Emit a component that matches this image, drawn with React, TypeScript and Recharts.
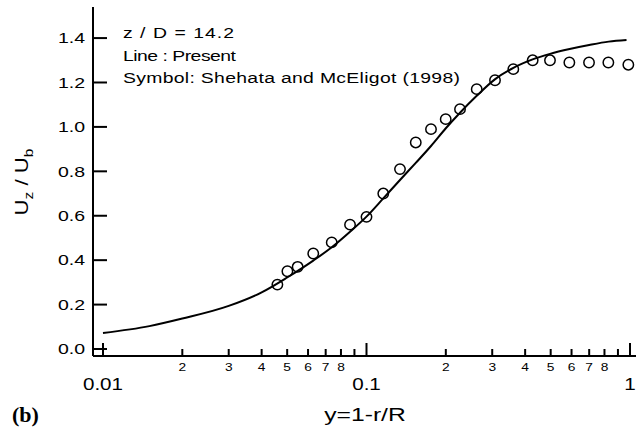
import React from 'react';
import { ComposedChart, Line, Scatter, XAxis, YAxis, Customized } from 'recharts';

// Present computation (line)
const lineX = [0.01, 0.015, 0.02, 0.03, 0.04, 0.05, 0.0628, 0.0738, 0.0866, 0.1, 0.1158, 0.134, 0.1538, 0.1757, 0.2, 0.2264, 0.262, 0.307, 0.361, 0.427, 0.497, 0.59, 0.7, 0.83, 0.97];
const lineY = [0.072, 0.103, 0.137, 0.194, 0.255, 0.322, 0.398, 0.458, 0.528, 0.596, 0.678, 0.761, 0.838, 0.914, 0.994, 1.064, 1.14, 1.214, 1.266, 1.304, 1.329, 1.351, 1.369, 1.384, 1.391];

// Shehata and McEligot (1998) (symbols)
const symX = [0.0459, 0.0501, 0.0548, 0.0628, 0.0738, 0.0866, 0.1, 0.1158, 0.134, 0.1538, 0.1757, 0.1998, 0.2264, 0.262, 0.3074, 0.3607, 0.4272, 0.497, 0.5886, 0.699, 0.8276, 0.9855];
const symY = [0.29, 0.35, 0.37, 0.43, 0.48, 0.56, 0.595, 0.7, 0.81, 0.93, 0.99, 1.035, 1.08, 1.17, 1.21, 1.26, 1.3, 1.3, 1.29, 1.29, 1.29, 1.28];

const xTicks = [0.01, 0.02, 0.03, 0.04, 0.05, 0.06, 0.07, 0.08, 0.09, 0.1, 0.2, 0.3, 0.4, 0.5, 0.6, 0.7, 0.8, 0.9, 1];
const xMajor = [0.01, 0.1, 1];
const xMajorLabels = ['0.01', '0.1', '1'];
const xUnlabeledMinor = [9];
const yTicks = [0, 0.2, 0.4, 0.6, 0.8, 1.0, 1.2, 1.4];
const yTickLabels = ['0.0', '0.2', '0.4', '0.6', '0.8', '1.0', '1.2', '1.4'];

const annotationLines = ['z / D = 14.2', 'Line : Present', 'Symbol: Shehata and McEligot (1998)'];
const xTitle = 'y=1-r/R';
const panelLabel = '(b)';

const lineData = lineX.map((x, i) => ({ x, y: lineY[i] }));
const symData = symX.map((x, i) => ({ x, y: symY[i] }));

const FONT = '"Liberation Sans", Arial, Helvetica, sans-serif';

const XTick = (props: any) => {
  const { x, y, payload } = props;
  const v = payload.value as number;
  const mi = xMajor.findIndex((m) => Math.abs(m - v) < 1e-9);
  const isMajor = mi >= 0;
  const lead = Math.round(v / Math.pow(10, Math.floor(Math.log10(v) + 1e-9)));
  return (
    <g>
      <line x1={x} x2={x} y1={y} y2={y - (isMajor ? 13 : 7)} stroke="#000" strokeWidth={2} />
      {isMajor ? (
        <text transform={`translate(${x},${y + 28}) scale(1.25,1)`} textAnchor="middle" dominantBaseline="central" fontSize={16.5} fontFamily={FONT} fill="#000">
          {xMajorLabels[mi]}
        </text>
      ) : xUnlabeledMinor.includes(lead) ? null : (
        <text transform={`translate(${x},${y + 11}) scale(1.25,1)`} textAnchor="middle" dominantBaseline="central" fontSize={11} fontFamily={FONT} fill="#000">
          {String(lead)}
        </text>
      )}
    </g>
  );
};

const YTick = (props: any) => {
  const { x, y, payload, index } = props;
  const v = payload.value as number;
  const idx = yTicks.findIndex((t) => Math.abs(t - v) < 1e-9);
  return (
    <g>
      <line x1={x} x2={x + 14} y1={y} y2={y} stroke="#000" strokeWidth={2} />
      <text transform={`translate(${x - 8},${y}) scale(1.3,1)`} textAnchor="end" dominantBaseline="central" fontSize={15} fontFamily={FONT} fill="#000">
        {yTickLabels[idx >= 0 ? idx : index]}
      </text>
    </g>
  );
};

const Decorations = () => (
  <g fill="#000" fontFamily={FONT}>
    <text transform="translate(123,38) scale(1.25,1)" fontSize={15.5} textLength={111 / 1.25} lengthAdjust="spacing">{annotationLines[0]}</text>
    <text transform="translate(123,60.5) scale(1.25,1)" fontSize={15.5} textLength={113 / 1.25} lengthAdjust="spacing">{annotationLines[1]}</text>
    <text transform="translate(123,83) scale(1.25,1)" fontSize={15.5} textLength={337 / 1.25} lengthAdjust="spacing">{annotationLines[2]}</text>
    <text transform="translate(365,421) scale(1.3,1)" fontSize={19} textAnchor="middle">{xTitle}</text>
    <text transform="translate(28,182) rotate(-90) scale(1.2,1)" fontSize={18.5} textAnchor="middle">
      U<tspan fontSize={13} dy={5}>z</tspan>
      <tspan dy={-5}> / U</tspan>
      <tspan fontSize={13} dy={5}>b</tspan>
    </text>
    <text transform="translate(12,422) scale(1.1,1)" fontSize={20} fontWeight="bold" fontFamily='"Liberation Serif", "Times New Roman", serif'>{panelLabel}</text>
  </g>
);

const Circle = (p: any) => <circle cx={p.cx} cy={p.cy} r={5.2} fill="none" stroke="#000" strokeWidth={1.5} />;

export default function App() {
  return (
    <div style={{ width: 642, height: 427, background: '#fff' }}>
      <style>{'body{margin:0;background:#fff}'}</style>
      <ComposedChart width={642} height={427} margin={{ top: 7, right: 6, left: 0, bottom: 0 }}>
        <XAxis
          dataKey="x"
          type="number"
          scale="log"
          domain={[0.009164, 1.0538]}
          allowDataOverflow
          ticks={xTicks}
          interval={0}
          tick={<XTick />}
          tickLine={false}
          tickSize={0}
          tickMargin={0}
          axisLine={{ stroke: '#000', strokeWidth: 2 }}
          height={71}
        />
        <XAxis xAxisId="top" orientation="top" type="number" domain={[0, 1]} tick={false} tickLine={false} axisLine={{ stroke: '#000', strokeWidth: 2 }} height={0} />
        <YAxis
          type="number"
          domain={[-0.0315, 1.5399]}
          allowDataOverflow
          ticks={yTicks}
          interval={0}
          tick={<YTick />}
          tickLine={false}
          tickSize={0}
          tickMargin={0}
          axisLine={{ stroke: '#000', strokeWidth: 2 }}
          width={93}
        />
        <YAxis yAxisId="right" orientation="right" type="number" domain={[0, 1]} tick={false} tickLine={false} axisLine={{ stroke: '#000', strokeWidth: 2 }} width={0} />
        <Line data={lineData} dataKey="y" type="monotone" stroke="#000" strokeWidth={2} dot={false} activeDot={false} isAnimationActive={false} />
        <Scatter data={symData} dataKey="y" shape={<Circle />} isAnimationActive={false} />
        <Customized component={<Decorations />} />
      </ComposedChart>
    </div>
  );
}
